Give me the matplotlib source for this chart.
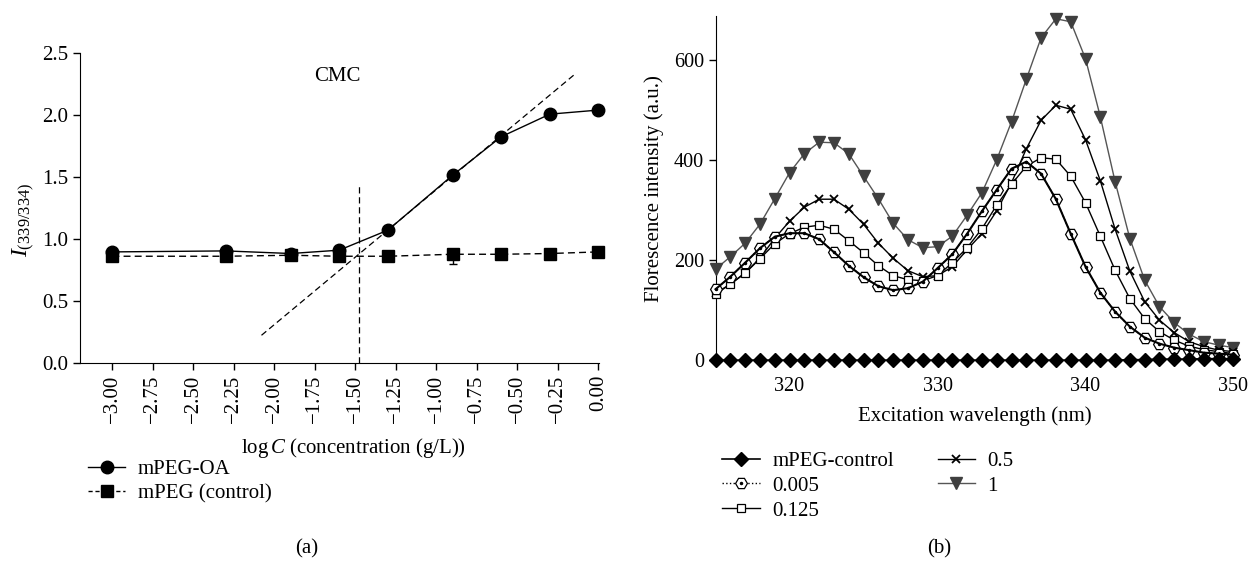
import matplotlib
matplotlib.use("Agg")
import matplotlib.pyplot as plt
from matplotlib.lines import Line2D
from matplotlib.legend_handler import HandlerTuple

plt.rcParams["font.family"] = ["Liberation Serif", "DejaVu Serif"]
plt.rcParams["mathtext.fontset"] = "custom"
plt.rcParams["mathtext.rm"] = "Liberation Serif"
plt.rcParams["mathtext.it"] = "Liberation Serif:italic"
plt.rcParams["font.size"] = 15

# (a) CMC determination
log_conc = [-3.0, -2.3, -1.9, -1.6, -1.3, -0.9, -0.6, -0.3, 0.0]
ratio_oa = [0.895, 0.903, 0.882, 0.909, 1.07, 1.513, 1.823, 2.005, 2.038]
ratio_ctrl = [0.86, 0.86, 0.868, 0.86, 0.86, 0.876, 0.876, 0.882, 0.895]
ctrl_err_low = [0, 0, 0, 0, 0, 0.08, 0, 0, 0]
ctrl_err_high = [0, 0, 0, 0, 0, 0.03, 0, 0, 0]
tangent_x = [-2.08, -0.14]
tangent_y = [0.223, 2.333]
cmc_x = -1.48
cmc_top = 1.45
xticks_a = [-3.0, -2.75, -2.5, -2.25, -2.0, -1.75, -1.5, -1.25, -1.0, -0.75, -0.5, -0.25, 0.0]

# (b) excitation spectra
wavelength = list(range(315, 351))
spec_control = [0] * 28 + [1, 1, 2, 2, 2, 3, 3, 3]
spec_0005 = [142, 167, 195, 224, 247, 254, 254, 242, 216, 189, 166, 148, 140, 144, 157, 184,
             212, 253, 298, 341, 383, 397, 373, 322, 253, 187, 135, 97, 67, 45, 33, 25, 20, 15, 13, 11]
spec_0125 = [132, 152, 174, 203, 233, 253, 266, 270, 262, 239, 215, 189, 169, 161, 159, 169,
             195, 225, 263, 310, 352, 388, 405, 402, 368, 315, 248, 180, 123, 83, 57, 40, 28, 21, 17, 13]
spec_05 = [134, 152, 175, 204, 244, 278, 306, 322, 322, 302, 272, 234, 204, 179, 167, 169,
           187, 221, 253, 299, 355, 423, 480, 510, 502, 441, 359, 262, 178, 117, 80, 55, 37, 27, 20, 17]
spec_1 = [182, 207, 234, 272, 323, 375, 413, 436, 435, 413, 368, 323, 274, 241, 225, 227,
          248, 290, 335, 401, 477, 562, 645, 683, 677, 603, 487, 357, 243, 160, 107, 75, 52, 37, 30, 25]

fig = plt.figure(figsize=(12.51, 5.61), dpi=100)

# ---- panel (a) ----
ax1 = fig.add_axes([0.064, 0.353, 0.415, 0.553])
ax1.plot(log_conc, ratio_oa, "-", color="black", lw=1.0, marker="o", ms=9, zorder=3, clip_on=False)
ax1.errorbar(log_conc, ratio_ctrl, yerr=[ctrl_err_low, ctrl_err_high], fmt="s", color="black",
             ms=9, capsize=3, elinewidth=1, zorder=3, clip_on=False)
ax1.plot(log_conc, ratio_ctrl, "--", color="black", lw=1.0, dashes=(5, 3), zorder=2)
ax1.plot(tangent_x, tangent_y, "--", color="black", lw=0.9, dashes=(5, 3))
ax1.plot([cmc_x, cmc_x], [0, cmc_top], "--", color="black", lw=0.9, dashes=(5, 3))
ax1.text(-1.61, 2.31, "CMC", ha="center", va="center", fontsize=15)

ax1.set_xlim(-3.2, 0.005)
ax1.set_ylim(0, 2.5)
ax1.set_yticks([0.0, 0.5, 1.0, 1.5, 2.0, 2.5])
ax1.set_yticklabels([f"{v:.1f}" for v in [0.0, 0.5, 1.0, 1.5, 2.0, 2.5]])
ax1.set_xticks(xticks_a)
ax1.set_xticklabels([f"{v:.2f}".replace("-", "\u2212") for v in xticks_a], rotation=90)
ax1.tick_params(direction="out", length=5, width=1, labelsize=15)
ax1.spines["top"].set_visible(False)
ax1.spines["right"].set_visible(False)
ax1.set_xlabel(r"$\log\mathit{C}$ (concentration (g/L))", fontsize=15)
ax1.xaxis.set_label_coords(0.526, -0.237)
ax1.set_ylabel(r"$\mathit{I}_{\mathrm{(339/334)}}$", fontsize=17)
ax1.yaxis.set_label_coords(-0.082, 0.46)

leg_a = [
    Line2D([], [], color="black", lw=1.0, marker="o", ms=9),
    Line2D([], [], color="black", lw=1.0, ls="--", dashes=(3, 2), marker="s", ms=9),
]
fig.legend(leg_a, ["mPEG-OA", "mPEG (control)"], loc="upper left",
           bbox_to_anchor=(0.062, 0.2), frameon=False, fontsize=15,
           handlelength=1.8, handletextpad=0.6, labelspacing=0.25, borderpad=0)

# ---- panel (b) ----
ax2 = fig.add_axes([0.572, 0.358, 0.414, 0.613])
gray = "#3f3f3f"
ax2.plot(wavelength, spec_1, "-", color="#555555", lw=1.0, marker="v", ms=8,
         mfc=gray, mec=gray, zorder=3, clip_on=False)
ax2.plot(wavelength, spec_05, "-", color="black", lw=1.0, marker="x", ms=6, mew=1.3,
         zorder=4, clip_on=False)
ax2.plot(wavelength, spec_0125, "-", color="black", lw=1.0, marker="s", ms=5.5, mfc="white",
         mec="black", mew=0.9, zorder=4, clip_on=False)
ax2.plot(wavelength, spec_0005, ":", color="black", lw=1.0, marker="H", ms=8.5, mfc="white",
         mec="black", mew=0.9, zorder=4, clip_on=False)
ax2.plot(wavelength, spec_0005, "none", marker=".", ms=3, color="black", zorder=5, clip_on=False)
ax2.plot(wavelength, spec_control, "-", color="black", lw=1.2, marker="D", ms=7,
         zorder=6, clip_on=False)

ax2.set_xlim(315, 350)
ax2.set_ylim(0, 688)
ax2.set_xticks([320, 330, 340, 350])
ax2.set_yticks([0, 200, 400, 600])
ax2.tick_params(axis="y", direction="out", length=5, width=1, labelsize=14.5)
ax2.tick_params(axis="x", length=0, labelsize=14.5, pad=12)
for s in ["top", "right", "bottom"]:
    ax2.spines[s].set_visible(False)
ax2.set_xlabel("Excitation wavelength (nm)", fontsize=15)
ax2.xaxis.set_label_coords(0.5, -0.134)
ax2.set_ylabel("Florescence intensity (a.u.)", fontsize=15)
ax2.yaxis.set_label_coords(-0.1, 0.5)

h_ctrl = Line2D([], [], color="black", lw=1.2, marker="D", ms=7)
h_hex = Line2D([], [], color="black", lw=1.0, ls=":", marker="H", ms=8.5, mfc="white", mew=0.9)
h_dot = Line2D([], [], ls="none", marker=".", ms=3, color="black")
h_sq = Line2D([], [], color="black", lw=1.0, marker="s", ms=5.5, mfc="white", mew=0.9)
h_x = Line2D([], [], color="black", lw=1.0, marker="x", ms=6, mew=1.3)
h_tri = Line2D([], [], color="#555555", lw=1.0, marker="v", ms=8, mfc=gray, mec=gray)
fig.legend([h_ctrl, (h_hex, h_dot), h_sq, h_x, h_tri],
           ["mPEG-control", "0.005", "0.125", "0.5", "1"],
           handler_map={tuple: HandlerTuple(ndivide=1, pad=0)},
           loc="upper left", bbox_to_anchor=(0.569, 0.214), ncol=2, frameon=False,
           fontsize=15, handlelength=1.8, handletextpad=0.6, labelspacing=0.25,
           columnspacing=2.1, borderpad=0)

fig.text(0.245, 0.022, "(a)", ha="center", va="center", fontsize=15)
fig.text(0.751, 0.022, "(b)", ha="center", va="center", fontsize=15)

fig.savefig("out.png", dpi=100)
